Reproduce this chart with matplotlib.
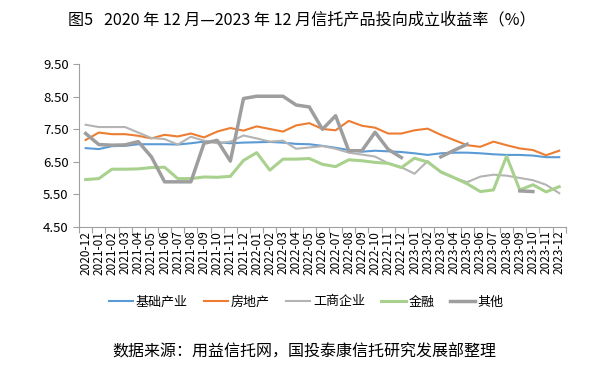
import numpy as np
import matplotlib
matplotlib.use("Agg")
import matplotlib.pyplot as plt

plt.rcParams['font.family'] = ['Noto Sans CJK SC', 'DejaVu Sans']

# 月份
months = ["2020-12"] + ["2021-%02d" % m for m in range(1, 13)] + \
         ["2022-%02d" % m for m in range(1, 13)] + ["2023-%02d" % m for m in range(1, 13)]

jichu = [6.92, 6.89, 6.98, 6.99, 7.04, 7.04, 7.04, 7.03, 7.07, 7.12, 7.10, 7.07, 7.09,
         7.10, 7.11, 7.09, 7.05, 7.04, 6.99, 6.93, 6.86, 6.81, 6.84, 6.82, 6.80,
         6.76, 6.71, 6.76, 6.78, 6.78, 6.76, 6.73, 6.71, 6.71, 6.69, 6.64, 6.64]
fangdichan = [7.17, 7.40, 7.35, 7.35, 7.30, 7.22, 7.33, 7.28, 7.37, 7.25, 7.43, 7.54, 7.46,
              7.59, 7.51, 7.43, 7.62, 7.69, 7.51, 7.47, 7.76, 7.61, 7.55, 7.37, 7.37,
              7.47, 7.52, 7.33, 7.17, 7.01, 6.96, 7.12, 7.01, 6.91, 6.86, 6.70, 6.84]
gongshang = [7.64, 7.57, 7.57, 7.57, 7.40, 7.23, 7.20, 7.03, 7.27, 7.15, 7.07, 7.12, 7.31,
             7.22, 7.12, 7.15, 6.90, 6.94, 6.98, 6.90, 6.78, 6.72, 6.66, 6.45, 6.33,
             6.13, 6.52, 6.17, 6.00, 5.87, 6.04, 6.10, 6.07, 6.00, 5.93, 5.79, 5.53]
jinrong = [5.95, 5.98, 6.27, 6.27, 6.28, 6.32, 6.33, 5.98, 5.98, 6.03, 6.02, 6.05, 6.54,
           6.78, 6.24, 6.58, 6.58, 6.60, 6.42, 6.35, 6.56, 6.53, 6.48, 6.45, 6.32,
           6.61, 6.49, 6.19, 6.01, 5.82, 5.58, 5.63, 6.67, 5.63, 5.79, 5.57, 5.73]
qita = [7.37, 7.03, 7.01, 7.02, 7.12, 6.65, 5.88, 5.88, 5.88, 7.07, 7.16, 6.52, 8.45,
        8.52, 8.52, 8.52, 8.25, 8.19, 7.50, 7.92, 6.84, 6.84, 7.41, 6.88, 6.63,
        np.nan, np.nan, 6.65, 6.85, 7.04, np.nan, np.nan, np.nan, 5.60, 5.58, np.nan, np.nan]

x = np.arange(len(months))

fig = plt.figure(figsize=(6.13, 3.77), dpi=100)
ax = fig.add_axes([0.129, 0.399, 0.794, 0.43])

ax.plot(x, jichu, color='#5B9BD5', lw=1.5, label='基础产业')
ax.plot(x, fangdichan, color='#ED7D31', lw=1.5, label='房地产')
ax.plot(x, gongshang, color='#B4B4B4', lw=1.5, label='工商企业')
ax.plot(x, jinrong, color='#A9D18E', lw=2.2, label='金融')
ax.plot(x, qita, color='#9E9E9E', lw=2.5, label='其他')

ax.set_xlim(-0.5, len(months) - 0.5)
ax.set_ylim(4.5, 9.5)
ax.set_yticks(np.arange(4.5, 9.6, 1.0))
ax.set_yticklabels(["%.2f" % v for v in np.arange(4.5, 9.6, 1.0)], fontsize=9.5)

# 类别刻度：刻度线在类别之间
ax.set_xticks(x)
ax.set_xticklabels(months, rotation=90, fontsize=8.5)
ax.set_xticks(np.arange(-0.5, len(months), 1.0), minor=True)
ax.tick_params(axis='x', which='major', length=0, pad=3)
ax.tick_params(axis='x', which='minor', length=4, color='#A0A0A0', width=0.8)
ax.tick_params(axis='y', length=4, color='#A0A0A0', width=0.8)

for s in ['top', 'right']:
    ax.spines[s].set_visible(False)
for s in ['left', 'bottom']:
    ax.spines[s].set_color('#A0A0A0')
    ax.spines[s].set_linewidth(0.8)

fig.text(0.493, 0.947, '图5   2020 年 12 月—2023 年 12 月信托产品投向成立收益率（%）',
         ha='center', va='center', fontsize=11.6)

fig.legend(loc='center', bbox_to_anchor=(0.499, 0.199), ncol=5, frameon=False,
           fontsize=9.4, handlelength=1.9, handletextpad=0.2, columnspacing=1.2)

fig.text(0.497, 0.066, '数据来源：用益信托网，国投泰康信托研究发展部整理',
         ha='center', va='center', fontsize=11.5)

fig.savefig('out.png', dpi=100)
